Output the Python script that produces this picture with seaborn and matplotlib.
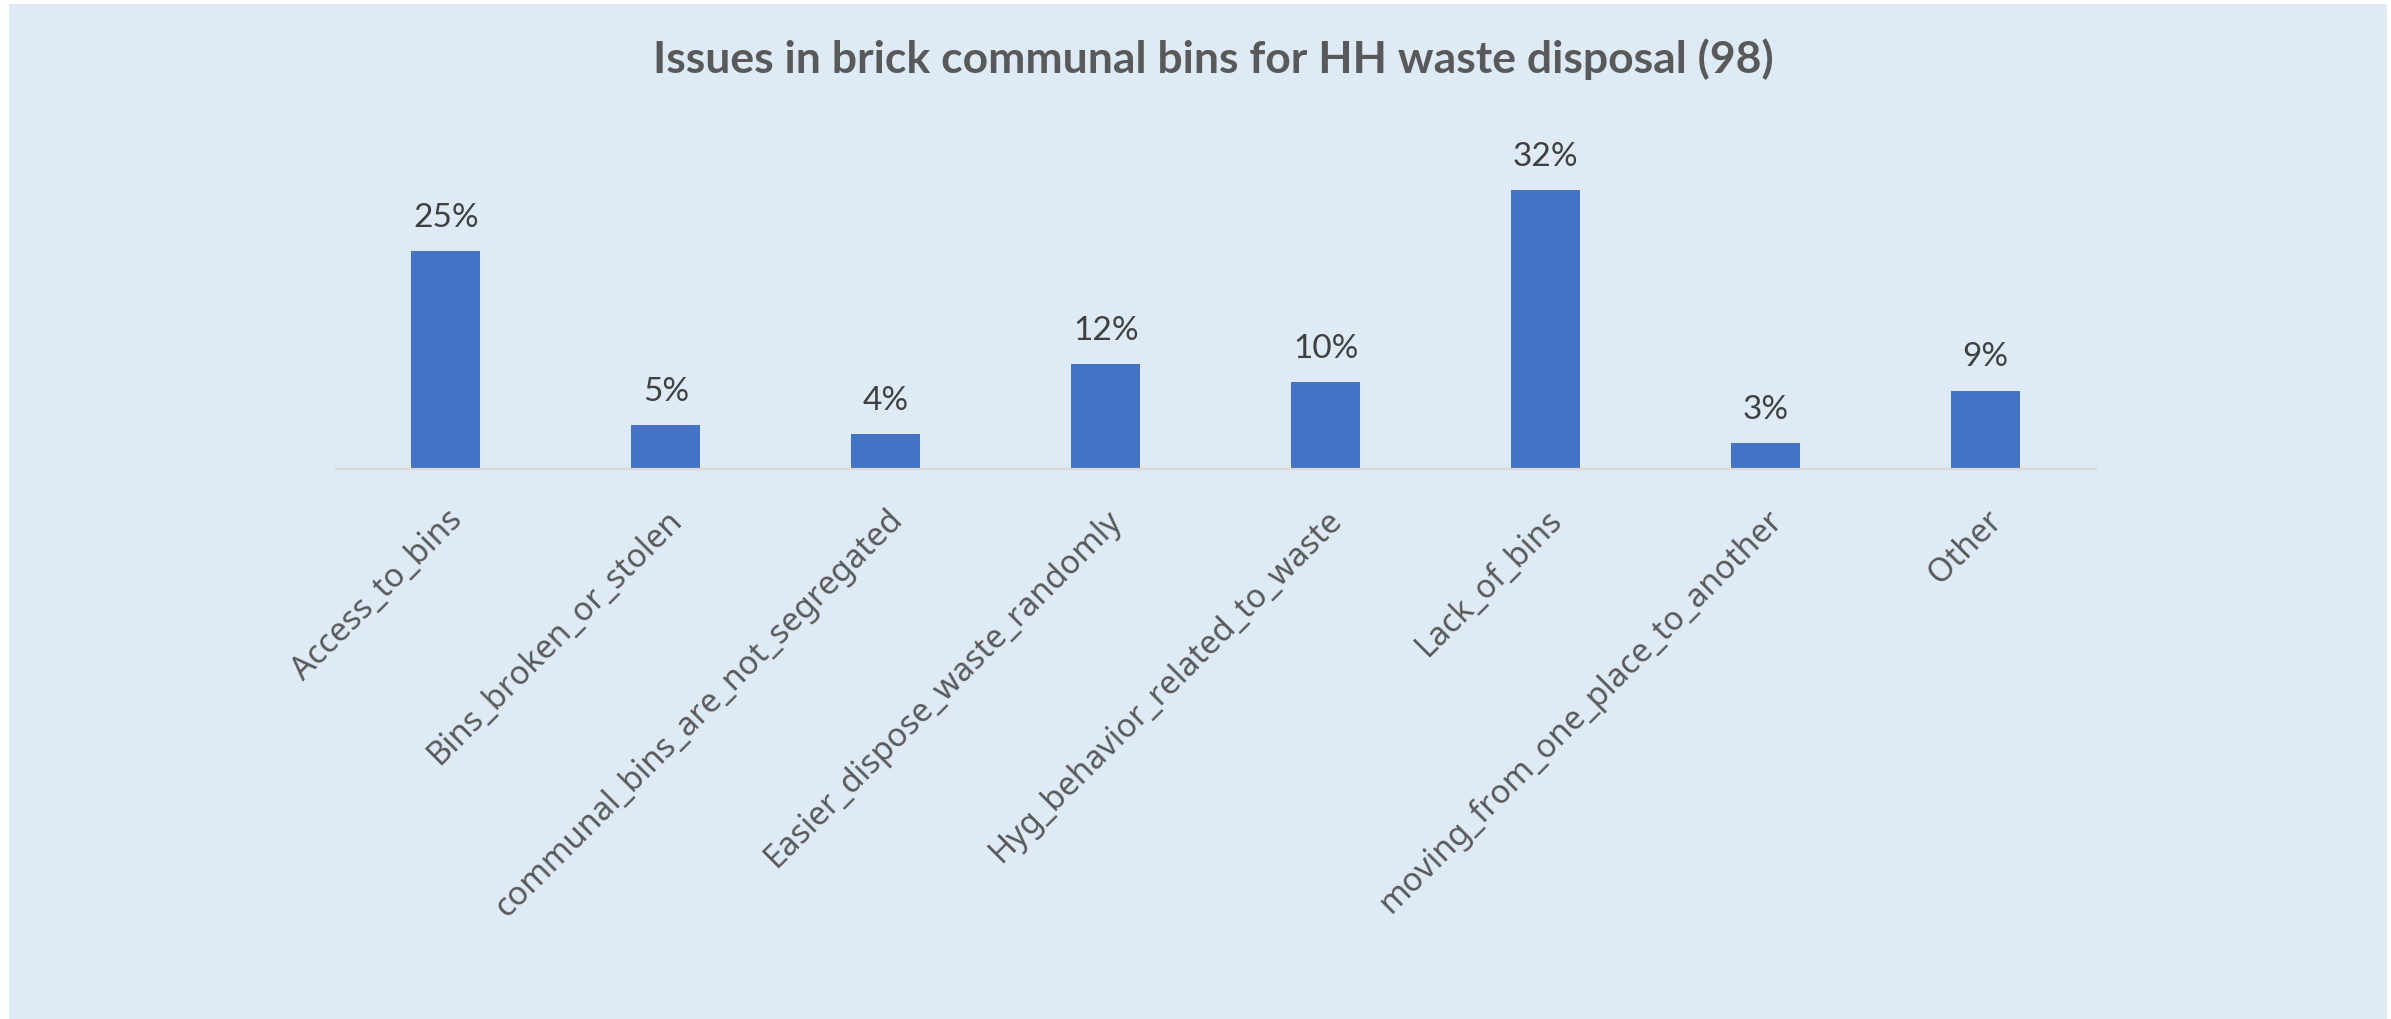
import matplotlib
matplotlib.use("Agg")
import matplotlib.pyplot as plt
from matplotlib.patches import Rectangle
import seaborn as sns
import pandas as pd

categories = [
    "Access_to_bins",
    "Bins_broken_or_stolen",
    "communal_bins_are_not_segregated",
    "Easier_dispose_waste_randomly",
    "Hyg_behavior_related_to_waste",
    "Lack_of_bins",
    "moving_from_one_place_to_another",
    "Other",
]
shares = [25, 5, 4, 12, 10, 32, 3, 9]
title = "Issues in brick communal bins for HH waste disposal (98)"

BAR = "#4472C4"
BG = "#DEEAF6"

sns.set_theme(style="white")
plt.rcParams["font.family"] = ["Noto Sans", "DejaVu Sans"]

W, H = 2391, 1019
fig = plt.figure(figsize=(W / 100, H / 100), dpi=100, facecolor="white")

# chart area panel, kept behind the axes
fig.patches.append(Rectangle((9 / W, 0), (2387 - 9) / W, (H - 4) / H,
                             transform=fig.transFigure, facecolor=BG,
                             edgecolor="none", zorder=-10))

left, right = 336, 2095.5
base = 469
ymax = 35
px_per = 8.72
top = base - ymax * px_per
ax = fig.add_axes([left / W, (H - base) / H, (right - left) / W, (base - top) / H])
ax.set_facecolor("none")
ax.set_zorder(5)

df = pd.DataFrame({"category": categories, "share": shares})
sns.barplot(data=df, x="category", y="share", color=BAR, saturation=1,
            width=0.314, linewidth=0, ax=ax)

ax.set_ylim(0, ymax)
ax.set_xlim(-0.5, len(categories) - 0.5)
ax.set_xlabel("")
ax.set_ylabel("")
ax.set_yticks([])
for s in ["top", "left", "right"]:
    ax.spines[s].set_visible(False)
ax.spines["bottom"].set_color("#D9D9D9")
ax.spines["bottom"].set_linewidth(1.6)

ax.tick_params(axis="x", length=0, pad=25)
ax.set_xticks(range(len(categories)))
ax.set_xticklabels(categories, rotation=45, ha="right", rotation_mode="anchor",
                   fontsize=23.5, color="#595959", family=["Noto Sans", "DejaVu Sans"])

for cont in ax.containers:
    ax.bar_label(cont, labels=[f"{v}%" for v in shares], padding=13,
                 fontsize=24, color="#404040", family=["Lato", "DejaVu Sans"])

fig.text(1213 / W, 1 - 73 / H, title, ha="center", va="baseline",
         fontsize=32, fontweight="bold", color="#595959",
         family=["Lato", "DejaVu Sans"])

fig.savefig("out.png", dpi=100, facecolor="white")
